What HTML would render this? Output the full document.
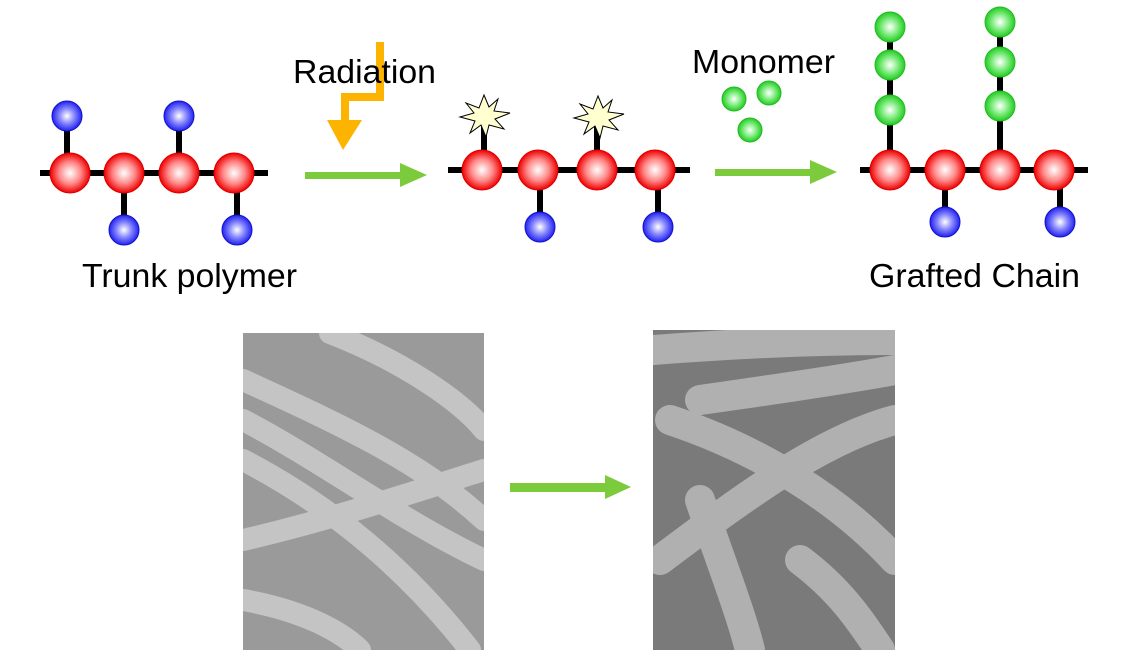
<!DOCTYPE html>
<html><head><style>body{margin:0;background:#fff}svg{display:block}</style></head><body>
<svg width="1140" height="650" viewBox="0 0 1140 650" xmlns="http://www.w3.org/2000/svg" font-family="Liberation Sans, sans-serif">
<defs>
<radialGradient id="r" cx="50%" cy="50%" r="50%"><stop offset="0" stop-color="#fff"/><stop offset="0.55" stop-color="#f88"/><stop offset="1" stop-color="#e00"/></radialGradient>
<radialGradient id="b" cx="50%" cy="50%" r="50%"><stop offset="0" stop-color="#fff"/><stop offset="0.5" stop-color="#88f"/><stop offset="1" stop-color="#22e"/></radialGradient>
<radialGradient id="g" cx="50%" cy="50%" r="50%"><stop offset="0" stop-color="#fff"/><stop offset="0.5" stop-color="#8e8"/><stop offset="1" stop-color="#2c2"/></radialGradient>
<clipPath id="c1"><rect x="243" y="333" width="241" height="317"/></clipPath>
<clipPath id="c2"><rect x="653" y="330" width="242" height="320"/></clipPath>
</defs>
<g stroke="#000" stroke-width="6">
<line x1="40" y1="173" x2="268" y2="173"/>
<line x1="67" y1="116" x2="67" y2="173"/><line x1="179" y1="116" x2="179" y2="173"/>
<line x1="124" y1="173" x2="124" y2="230"/><line x1="237" y1="173" x2="237" y2="230"/>
<line x1="448" y1="170" x2="690" y2="170"/>
<line x1="484" y1="118" x2="484" y2="170"/><line x1="597" y1="118" x2="597" y2="170"/>
<line x1="540" y1="170" x2="540" y2="227"/><line x1="658" y1="170" x2="658" y2="227"/>
<line x1="860" y1="170" x2="1088" y2="170"/>
<line x1="890" y1="27" x2="890" y2="170"/><line x1="1000" y1="22" x2="1000" y2="170"/>
<line x1="945" y1="170" x2="945" y2="222"/><line x1="1060" y1="170" x2="1060" y2="222"/>
</g>
<g fill="url(#r)" stroke="#d00" stroke-width="1">
<circle cx="70" cy="173" r="20"/><circle cx="124" cy="173" r="20"/><circle cx="179" cy="173" r="20"/><circle cx="234" cy="173" r="20"/>
<circle cx="482" cy="170" r="20"/><circle cx="538" cy="170" r="20"/><circle cx="597" cy="170" r="20"/><circle cx="655" cy="170" r="20"/>
<circle cx="890" cy="170" r="20"/><circle cx="945" cy="170" r="20"/><circle cx="1000" cy="170" r="20"/><circle cx="1054" cy="170" r="20"/>
</g>
<g fill="url(#b)" stroke="#11c" stroke-width="1">
<circle cx="67" cy="116" r="15"/><circle cx="179" cy="116" r="15"/><circle cx="124" cy="230" r="15"/><circle cx="237" cy="230" r="15"/>
<circle cx="540" cy="227" r="15"/><circle cx="658" cy="227" r="15"/><circle cx="945" cy="222" r="15"/><circle cx="1060" cy="222" r="15"/>
</g>
<g fill="url(#g)" stroke="#2b2" stroke-width="1">
<circle cx="890" cy="110" r="15"/><circle cx="890" cy="65" r="15"/><circle cx="890" cy="27" r="15"/>
<circle cx="1000" cy="106" r="15"/><circle cx="1000" cy="62" r="15"/><circle cx="1000" cy="22" r="15"/>
<circle cx="734" cy="99" r="12"/><circle cx="769" cy="93" r="12"/><circle cx="750" cy="130" r="12"/>
</g>
<g fill="#ffffd0" stroke="#000" stroke-width="1">
<polygon transform="translate(484,117)" points="0,-22 5,-10 14,-18 10,-6 26,-4 11,2 20,12 5,8 2,20 -3,8 -14,16 -9,4 -24,0 -10,-4 -18,-14 -5,-9"/>
<polygon transform="translate(598,118)" points="0,-22 5,-10 14,-18 10,-6 26,-4 11,2 20,12 5,8 2,20 -3,8 -14,16 -9,4 -24,0 -10,-4 -18,-14 -5,-9"/>
</g>
<polyline points="380,42 380,97 345,97 345,122" fill="none" stroke="#fdb400" stroke-width="8"/>
<polygon points="327,120 362,120 343,150" fill="#fdb400"/>
<g fill="#7ccb3c">
<rect x="305" y="172" width="97" height="7"/><polygon points="400,163 427,175 400,187"/>
<rect x="715" y="169" width="97" height="7"/><polygon points="810,160 837,172 810,184"/>
<rect x="510" y="483" width="97" height="9"/><polygon points="605,475 631,487 605,499"/>
</g>
<g font-size="33" fill="#000">
<text x="293" y="83" textLength="143" lengthAdjust="spacingAndGlyphs">Radiation</text>
<text x="692" y="73" textLength="143" lengthAdjust="spacingAndGlyphs">Monomer</text>
<text x="82" y="287" textLength="215" lengthAdjust="spacingAndGlyphs">Trunk polymer</text>
<text x="869" y="287" textLength="211" lengthAdjust="spacingAndGlyphs">Grafted Chain</text>
</g>
<rect x="243" y="333" width="241" height="317" fill="#9a9a9a"/>
<g clip-path="url(#c1)" stroke="#c4c4c4" stroke-width="22" stroke-linecap="round" fill="none">
<path d="M243,380 C330,420 420,460 484,520"/>
<path d="M243,420 C320,460 400,520 484,560"/>
<path d="M243,460 C320,500 400,560 470,650"/>
<path d="M243,540 C330,520 420,490 484,470"/>
<path d="M330,333 C400,360 460,400 484,430"/>
<path d="M243,600 C300,610 340,630 360,650"/>
</g>
<rect x="653" y="330" width="242" height="320" fill="#7a7a7a"/>
<g clip-path="url(#c2)" stroke="#b0b0b0" stroke-width="30" stroke-linecap="round" fill="none">
<path d="M670,420 C760,450 840,500 895,560"/>
<path d="M700,400 C770,390 840,380 895,370"/>
<path d="M660,560 C740,500 820,440 895,420"/>
<path d="M700,500 C720,560 740,610 750,650"/>
<path d="M653,350 C720,345 800,340 895,340"/>
<path d="M800,560 C840,590 860,620 880,650"/>
</g>
</svg>
</body></html>
